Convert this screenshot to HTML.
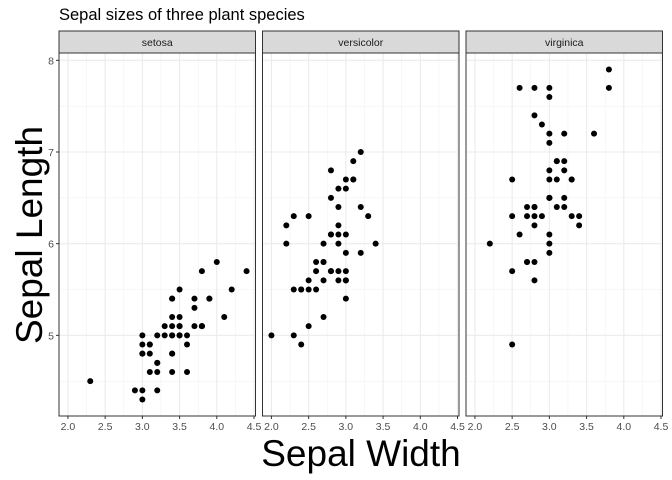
<!DOCTYPE html>
<html><head><meta charset="utf-8"><style>
body{margin:0;background:#fff}
svg{display:block;font-family:"Liberation Sans",Arial,sans-serif}
</style></head><body>
<svg id="chart" width="672" height="480" xmlns="http://www.w3.org/2000/svg">
<rect width="672" height="480" fill="#fff"/>
<text x="59" y="20" font-size="16.5" fill="#000">Sepal sizes of three plant species</text>
<text transform="translate(42,235) rotate(-90)" text-anchor="middle" font-size="37" fill="#000">Sepal Length</text>
<text x="361" y="466" text-anchor="middle" font-size="37" fill="#000">Sepal Width</text>
<g id="g"></g>
</svg>
<script>
const species = ["setosa","versicolor","virginica"];
const xTicks = [2.0,2.5,3.0,3.5,4.0,4.5];
const xTickLabels = ["2.0","2.5","3.0","3.5","4.0","4.5"];
const yTicks = [5,6,7,8];
const yTickLabels = ["5","6","7","8"];
const setosaWidth = [3.5,3.0,3.2,3.1,3.6,3.9,3.4,3.4,2.9,3.1,3.7,3.4,3.0,3.0,4.0,4.4,3.9,3.5,3.8,3.8,3.4,3.7,3.6,3.3,3.4,3.0,3.4,3.5,3.4,3.2,3.1,3.4,4.1,4.2,3.1,3.2,3.5,3.6,3.0,3.4,3.5,2.3,3.2,3.5,3.8,3.0,3.8,3.2,3.7,3.3];
const setosaLength = [5.1,4.9,4.7,4.6,5.0,5.4,4.6,5.0,4.4,4.9,5.4,4.8,4.8,4.3,5.8,5.7,5.4,5.1,5.7,5.1,5.4,5.1,4.6,5.1,4.8,5.0,5.0,5.2,5.2,4.7,4.8,5.4,5.2,5.5,4.9,5.0,5.5,4.9,4.4,5.1,5.0,4.5,4.4,5.0,5.1,4.8,5.1,4.6,5.3,5.0];
const versicolorWidth = [3.2,3.2,3.1,2.3,2.8,2.8,3.3,2.4,2.9,2.7,2.0,3.0,2.2,2.9,2.9,3.1,3.0,2.7,2.2,2.5,3.2,2.8,2.5,2.8,2.9,3.0,2.8,3.0,2.9,2.6,2.4,2.4,2.7,2.7,3.0,3.4,3.1,2.3,3.0,2.5,2.6,3.0,2.6,2.3,2.7,3.0,2.9,2.9,2.5,2.8];
const versicolorLength = [7.0,6.4,6.9,5.5,6.5,5.7,6.3,4.9,6.6,5.2,5.0,5.9,6.0,6.1,5.6,6.7,5.6,5.8,6.2,5.6,5.9,6.1,6.3,6.1,6.4,6.6,6.8,6.7,6.0,5.7,5.5,5.5,5.8,6.0,5.4,6.0,6.7,6.3,5.6,5.5,5.5,6.1,5.8,5.0,5.6,5.7,5.7,6.2,5.1,5.7];
const virginicaWidth = [3.3,2.7,3.0,2.9,3.0,3.0,2.5,2.9,2.5,3.6,3.2,2.7,3.0,2.5,2.8,3.2,3.0,3.8,2.6,2.2,3.2,2.8,2.8,2.7,3.3,3.2,2.8,3.0,2.8,3.0,2.8,3.8,2.8,2.8,2.6,3.0,3.4,3.1,3.0,3.1,3.1,3.1,2.7,3.2,3.3,3.0,2.5,3.0,3.4,3.0];
const virginicaLength = [6.3,5.8,7.1,6.3,6.5,7.6,4.9,7.3,6.7,7.2,6.5,6.4,6.8,5.7,5.8,6.4,6.5,7.7,7.7,6.0,6.9,5.6,7.7,6.3,6.7,7.2,6.2,6.1,6.4,7.2,7.4,7.9,6.4,6.3,6.1,7.7,6.3,6.4,6.0,6.9,6.7,6.9,5.8,6.8,6.7,6.7,6.3,6.5,6.2,5.9];
const seriesW = [setosaWidth, versicolorWidth, virginicaWidth];
const seriesL = [setosaLength, versicolorLength, virginicaLength];

const NS="http://www.w3.org/2000/svg";
const gRoot=document.getElementById('g');
const panelLeft=[59,262.5,466], panelW=196.5, pTop=53, pBottom=416, stripTop=31;
const xMin=1.88, xMax=4.52, yMin=4.12, yMax=8.08;
function el(t,a){const e=document.createElementNS(NS,t);for(const k in a)e.setAttribute(k,a[k]);gRoot.appendChild(e);return e;}
function yS(v){return pBottom-(v-yMin)/(yMax-yMin)*(pBottom-pTop);}
species.forEach((sp,p)=>{
  const L=panelLeft[p];
  const xS=v=>L+(v-xMin)/(xMax-xMin)*panelW;
  const r=el('rect',{x:L,y:pTop,width:panelW,height:pBottom-pTop,fill:'#fff'});
  
  
  for(let i=0;i<xTicks.length-1;i++){const m=(xTicks[i]+xTicks[i+1])/2;
    const ln=el('line',{x1:xS(m),x2:xS(m),y1:pTop,y2:pBottom,stroke:'#f2f2f2','stroke-width':0.6});
    
    }
  [4.5,5.5,6.5,7.5].forEach(m=>{const ln=el('line',{x1:L,x2:L+panelW,y1:yS(m),y2:yS(m),stroke:'#f2f2f2','stroke-width':0.6});
    
    });
  xTicks.forEach((t,i)=>{const ln=el('line',{x1:xS(t),x2:xS(t),y1:pTop,y2:pBottom,stroke:'#ebebeb','stroke-width':1.1});
    
    
    const tk=el('line',{x1:xS(t),x2:xS(t),y1:pBottom,y2:pBottom+3,stroke:'#333','stroke-width':1});
    
    
    const tx=el('text',{x:xS(t),y:pBottom+14,'text-anchor':'middle','font-size':10.5,fill:'#4d4d4d'});tx.textContent=xTickLabels[i];
    
    });
  yTicks.forEach(t=>{const ln=el('line',{x1:L,x2:L+panelW,y1:yS(t),y2:yS(t),stroke:'#ebebeb','stroke-width':1.1});
    
    });
  seriesW[p].forEach((w,i)=>{const c=el('circle',{cx:xS(w),cy:yS(seriesL[p][i]),r:3,fill:'#000'});
    
    });
  const b=el('rect',{x:L,y:pTop,width:panelW,height:pBottom-pTop,fill:'none',stroke:'#333','stroke-width':1});
  
  
  const s=el('rect',{x:L,y:stripTop,width:panelW,height:pTop-stripTop,fill:'#d9d9d9',stroke:'#333','stroke-width':1});
  
  
  const st=el('text',{x:L+panelW/2,y:stripTop+15,'text-anchor':'middle','font-size':10.5,fill:'#1a1a1a'});st.textContent=sp;
  
  
});
yTicks.forEach((t,i)=>{
  const tk=el('line',{x1:56,x2:59,y1:yS(t),y2:yS(t),stroke:'#333','stroke-width':1});
  
  
  const tx=el('text',{x:54,y:yS(t)+4,'text-anchor':'end','font-size':10.5,fill:'#4d4d4d'});tx.textContent=yTickLabels[i];
  
  
});
</script>
</body></html>
